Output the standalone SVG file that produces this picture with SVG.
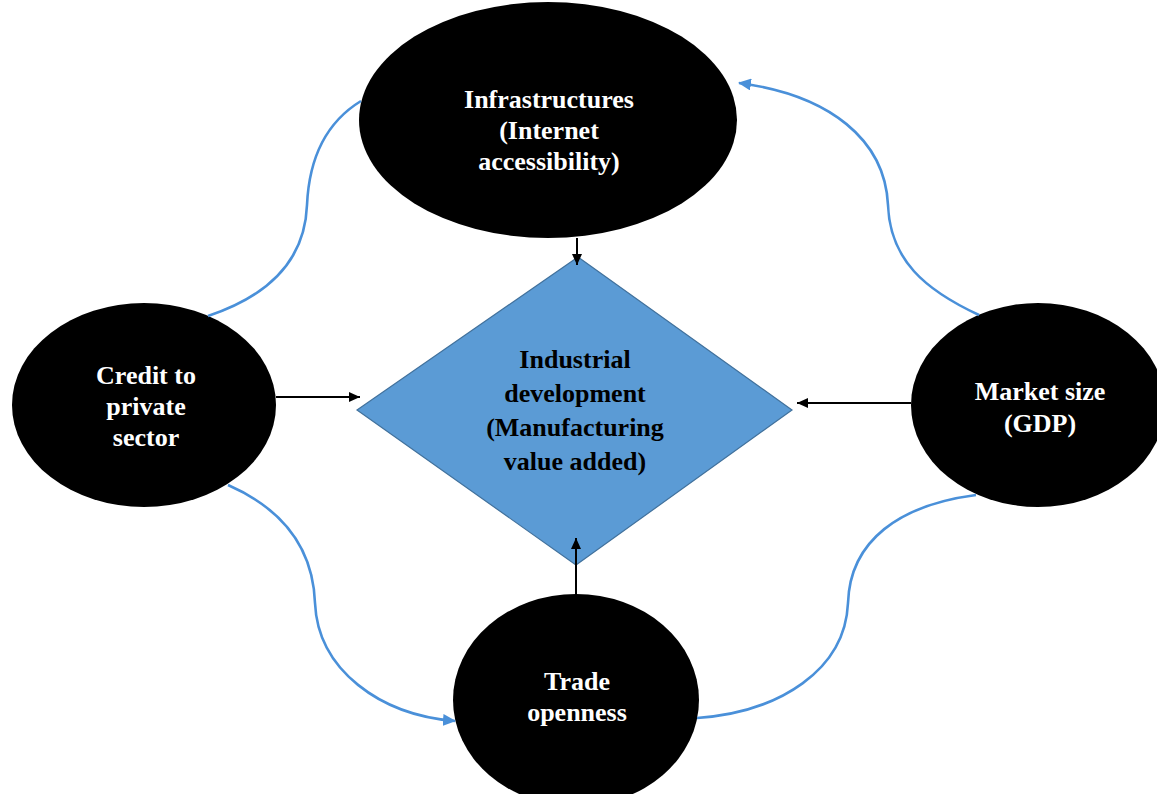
<svg xmlns="http://www.w3.org/2000/svg" width="1157" height="794" viewBox="0 0 1157 794">
  <style>
    .oval { fill: #000000; }
    .diamond { fill: #5b9bd5; stroke: #41719c; stroke-width: 1.2; }
    .lbl { font-family: "Liberation Serif", "Times New Roman", serif; font-weight: bold; font-size: 26px; text-anchor: middle; }
    .lbl-w { fill: #ffffff; }
    .lbl-k { fill: #000000; }
    .arrow { stroke: #000000; stroke-width: 2; fill: none; marker-end: url(#headBlack); }
    .loop { stroke: #4a90d9; stroke-width: 2.6; fill: none; }
    .loop-arrow { marker-end: url(#headBlue); }
  </style>
  <defs>
    <marker id="headBlack" markerUnits="userSpaceOnUse" markerWidth="11" markerHeight="10" refX="11" refY="5" orient="auto">
      <path d="M0,0 L11,5 L0,10 z" fill="#000000"/>
    </marker>
    <marker id="headBlue" markerUnits="userSpaceOnUse" markerWidth="13" markerHeight="12" refX="12" refY="6" orient="auto">
      <path d="M0,0 L13,6 L0,12 z" fill="#4a90d9"/>
    </marker>
  </defs>

  <rect width="1157" height="794" fill="#ffffff"/>

  <!-- central outcome -->
  <g id="node-industrial">
    <polygon class="diamond" points="578,257 792,410 576,565 357,410"/>
    <text class="lbl lbl-k" x="575" y="368">Industrial</text>
    <text class="lbl lbl-k" x="575" y="402">development</text>
    <text class="lbl lbl-k" x="575" y="436">(Manufacturing</text>
    <text class="lbl lbl-k" x="575" y="470">value added)</text>
  </g>

  <g id="node-infrastructures">
    <ellipse class="oval" cx="548" cy="120" rx="189" ry="118"/>
    <text class="lbl lbl-w" x="549" y="108">Infrastructures</text>
    <text class="lbl lbl-w" x="549" y="139">(Internet</text>
    <text class="lbl lbl-w" x="549" y="170">accessibility)</text>
  </g>

  <g id="node-credit">
    <ellipse class="oval" cx="144" cy="405" rx="132" ry="102"/>
    <text class="lbl lbl-w" x="146" y="384">Credit to</text>
    <text class="lbl lbl-w" x="146" y="415">private</text>
    <text class="lbl lbl-w" x="146" y="446">sector</text>
  </g>

  <g id="node-market">
    <ellipse class="oval" cx="1038" cy="405" rx="127" ry="102"/>
    <text class="lbl lbl-w" x="1040" y="400">Market size</text>
    <text class="lbl lbl-w" x="1040" y="432">(GDP)</text>
  </g>

  <g id="node-trade">
    <ellipse class="oval" cx="576" cy="700" rx="123" ry="106"/>
    <text class="lbl lbl-w" x="577" y="690">Trade</text>
    <text class="lbl lbl-w" x="577" y="721">openness</text>
  </g>

  <g id="connectors">
    <!-- direct effects on industrial development -->
    <line class="arrow" x1="577" y1="238" x2="577" y2="265"/>
    <line class="arrow" x1="276" y1="397" x2="360" y2="397"/>
    <line class="arrow" x1="911" y1="403" x2="797" y2="403"/>
    <line class="arrow" x1="576" y1="594" x2="576" y2="538"/>

    <!-- links between determinants -->
    <path class="loop" d="M208,316 C268,296 305,260 307,205 C309,160 325,123 361,101"/>
    <path class="loop loop-arrow" d="M979,315 C925,290 890,260 888,205 C885,140 830,95 739,83"/>
    <path class="loop loop-arrow" d="M228,485 C285,510 313,550 315,603 C318,670 380,715 455,721"/>
    <path class="loop" d="M697,718 C780,712 845,670 848,603 C850,540 900,505 976,495"/>
  </g>
</svg>
